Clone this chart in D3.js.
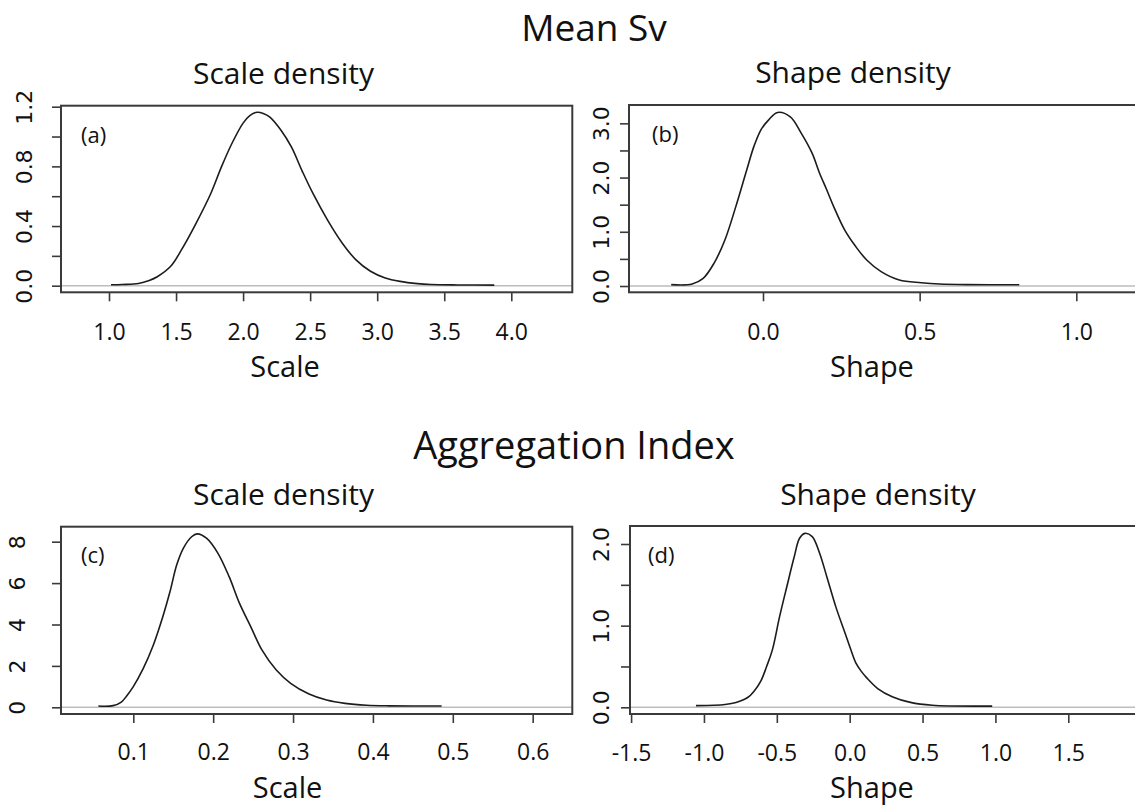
<!DOCTYPE html>
<html><head><meta charset="utf-8">
<script src="https://cdn.jsdelivr.net/npm/d3@7"></script>
<style>body{margin:0;background:#fff}svg{display:block}</style>
</head><body>
<svg id="chart" width="1135" height="806"></svg>
<script>
// ---------- data ----------
const mainTitles = ["Mean Sv", "Aggregation Index"];
const panelTitles = ["Scale density", "Shape density", "Scale density", "Shape density"];
const axisTitles = ["Scale", "Shape", "Scale", "Shape"];
const panelTags = ["(a)", "(b)", "(c)", "(d)"];

// (a) Mean Sv – scale density
const aX = [1.015,1.10,1.22,1.30,1.36,1.46,1.54,1.65,1.76,1.84,1.92,2.00,2.05,2.105,2.15,2.20,2.28,2.36,2.44,2.52,2.63,2.74,2.84,2.95,3.06,3.17,3.30,3.40,3.60,3.873];
const aY = [0.006,0.008,0.015,0.035,0.06,0.13,0.24,0.42,0.62,0.80,0.96,1.09,1.14,1.163,1.155,1.13,1.045,0.93,0.77,0.62,0.44,0.285,0.175,0.097,0.052,0.029,0.014,0.008,0.005,0.004];
// (b) Mean Sv – shape density
const bX = [-0.293,-0.226,-0.191,-0.1565,-0.1216,-0.0868,-0.052,-0.0287,-0.0057,0.0175,0.0465,0.0871,0.1219,0.1567,0.18,0.203,0.226,0.261,0.296,0.331,0.377,0.435,0.505,0.563,0.65,0.818];
const bY = [0.025,0.037,0.14,0.418,0.849,1.464,2.14,2.58,2.89,3.06,3.2,3.12,2.82,2.45,2.09,1.78,1.46,1.03,0.727,0.48,0.265,0.111,0.0615,0.037,0.025,0.022];
// (c) Aggregation Index – scale density
const cX = [0.0563,0.0747,0.085,0.0917,0.100,0.1125,0.125,0.1376,0.1459,0.1543,0.1626,0.173,0.180,0.192,0.206,0.220,0.233,0.247,0.261,0.279,0.297,0.320,0.342,0.365,0.392,0.42,0.486];
const cY = [0.06,0.08,0.25,0.55,1.0,1.88,3.0,4.46,5.58,6.87,7.68,8.24,8.38,8.16,7.44,6.31,5.02,3.9,2.77,1.8,1.16,0.64,0.35,0.19,0.1,0.07,0.06];
// (d) Aggregation Index – shape density
const dX = [-1.055,-0.93,-0.855,-0.78,-0.70,-0.655,-0.61,-0.57,-0.531,-0.481,-0.431,-0.381,-0.344,-0.307,-0.257,-0.207,-0.157,-0.095,-0.032,0.005,0.043,0.08,0.117,0.192,0.292,0.417,0.566,0.978];
const dY = [0.02,0.025,0.035,0.06,0.12,0.2,0.32,0.5,0.70,1.11,1.48,1.84,2.07,2.13,2.09,1.89,1.60,1.23,0.91,0.72,0.54,0.44,0.36,0.23,0.13,0.06,0.025,0.015];

// axis domains and ticks
const aXDomain = [0.642, 4.455], aYDomain = [-0.0442, 1.2067];
const bXDomain = [-0.4277, 1.2065], bYDomain = [-0.116, 3.338];
const cXDomain = [0.00949, 0.6496], cYDomain = [-0.324, 8.725];
const dXDomain = [-1.5075, 1.999], dYDomain = [-0.082, 2.2205];

const aXTicks = [1.0,1.5,2.0,2.5,3.0,3.5,4.0];
const aXLabels = ["1.0","1.5","2.0","2.5","3.0","3.5","4.0"];
const aYTicks = [0,0.2,0.4,0.6,0.8,1.0,1.2];
const aYLabels = ["0.0","","0.4","","0.8","","1.2"];
const bXTicks = [0,0.5,1.0];
const bXLabels = ["0.0","0.5","1.0"];
const bYTicks = [0,0.5,1,1.5,2,2.5,3];
const bYLabels = ["0.0","","1.0","","2.0","","3.0"];
const cXTicks = [0.1,0.2,0.3,0.4,0.5,0.6];
const cXLabels = ["0.1","0.2","0.3","0.4","0.5","0.6"];
const cYTicks = [0,2,4,6,8];
const cYLabels = ["0","2","4","6","8"];
const dXTicks = [-1.5,-1.0,-0.5,0,0.5,1.0,1.5];
const dXLabels = ["-1.5","-1.0","-0.5","0.0","0.5","1.0","1.5"];
const dYTicks = [0,0.5,1,1.5,2];
const dYLabels = ["0.0","","1.0","","2.0"];

// ---------- layout ----------
const svg = d3.select("#chart");
const FONT = "'Open Sans', sans-serif";
const NUMFONT = "'DejaVu Sans', sans-serif";

const panels = [
  {box:[61,105.7,572.3,292.3], xs:aX, ys:aY, xd:aXDomain, yd:aYDomain, xt:aXTicks, xl:aXLabels, yt:aYTicks, yl:aYLabels,
   title:panelTitles[0], tx:283.5, ty:84, axt:axisTitles[0], ax:285, ay:377, tag:panelTags[0], tagx:81, tagy:143, ylb:32, xlb:340},
  {box:[629,105,1141,292.3], xs:bX, ys:bY, xd:bXDomain, yd:bYDomain, xt:bXTicks, xl:bXLabels, yt:bYTicks, yl:bYLabels,
   title:panelTitles[1], tx:853, ty:83, axt:axisTitles[1], ax:872, ay:377, tag:panelTags[1], tagx:652, tagy:142, ylb:609, xlb:340},
  {box:[61,526.7,572.3,714], xs:cX, ys:cY, xd:cXDomain, yd:cYDomain, xt:cXTicks, xl:cXLabels, yt:cYTicks, yl:cYLabels,
   title:panelTitles[2], tx:283.5, ty:505, axt:axisTitles[2], ax:287.5, ay:798, tag:panelTags[2], tagx:81, tagy:563, ylb:25, xlb:760},
  {box:[630,526,1141,714], xs:dX, ys:dY, xd:dXDomain, yd:dYDomain, xt:dXTicks, xl:dXLabels, yt:dYTicks, yl:dYLabels,
   title:panelTitles[3], tx:878, ty:505, axt:axisTitles[3], ax:872, ay:798, tag:panelTags[3], tagx:648, tagy:563, ylb:609, xlb:761}
];

// main titles
svg.append("text").attr("x",594).attr("y",41).attr("text-anchor","middle")
  .style("font-family",FONT).style("font-size","37px").attr("fill","#111").text(mainTitles[0]);
svg.append("text").attr("x",574).attr("y",459).attr("text-anchor","middle")
  .style("font-family",FONT).style("font-size","38px").attr("fill","#111").text(mainTitles[1]);

const AXC = "#3a3a3a";

panels.forEach(p => {
  const [l,t,r,b] = p.box;
  const x = d3.scaleLinear().domain(p.xd).range([l,r]);
  const y = d3.scaleLinear().domain(p.yd).range([b,t]);
  const g = svg.append("g");

  // zero line
  g.append("line").attr("x1",l).attr("x2",r).attr("y1",y(0)).attr("y2",y(0))
    .attr("stroke","#bdbdbd").attr("stroke-width",1.5);

  // density curve
  const pts = p.xs.map((v,i)=>[v,p.ys[i]]);
  g.append("path").datum(pts)
    .attr("d", d3.line().x(d=>x(d[0])).y(d=>y(d[1])).curve(d3.curveCatmullRom.alpha(0.5)))
    .attr("fill","none").attr("stroke","#1c1c1c").attr("stroke-width",1.6);

  // x axis
  const xa = g.append("g").attr("transform",`translate(0,${b})`)
    .call(d3.axisBottom(x).tickValues(p.xt).tickSize(9).tickFormat((d,i)=>p.xl[i]));
  xa.select(".domain").remove();
  xa.selectAll(".tick line").attr("stroke",AXC).attr("stroke-width",1.6);
  xa.selectAll(".tick text").attr("y",p.xlb-b).attr("dy",null)
    .style("font-family",FONT).style("font-size","23px").attr("fill","#111");

  // y axis
  const ya = g.append("g").attr("transform",`translate(${l},0)`)
    .call(d3.axisLeft(y).tickValues(p.yt).tickSize(9).tickFormat((d,i)=>p.yl[i]));
  ya.select(".domain").remove();
  ya.selectAll(".tick line").attr("stroke",AXC).attr("stroke-width",1.6);
  ya.selectAll(".tick text").attr("x",null).attr("dy",null).attr("text-anchor","middle")
    .attr("transform",`translate(${p.ylb-l},0) rotate(-90)`)
    .style("font-family",NUMFONT).style("font-size","22px").attr("fill","#111");

  // box
  g.append("rect").attr("x",l).attr("y",t).attr("width",r-l).attr("height",b-t)
    .attr("fill","none").attr("stroke",AXC).attr("stroke-width",2);

  // titles & labels
  g.append("text").attr("x",p.tx).attr("y",p.ty).attr("text-anchor","middle")
    .style("font-family",FONT).style("font-size","30px").attr("fill","#111").text(p.title);
  g.append("text").attr("x",p.ax).attr("y",p.ay).attr("text-anchor","middle")
    .style("font-family",FONT).style("font-size","29px").attr("fill","#111").text(p.axt);
  g.append("text").attr("x",p.tagx).attr("y",p.tagy)
    .style("font-family",FONT).style("font-size","22px").attr("fill","#111").text(p.tag);
});
</script>
</body></html>
